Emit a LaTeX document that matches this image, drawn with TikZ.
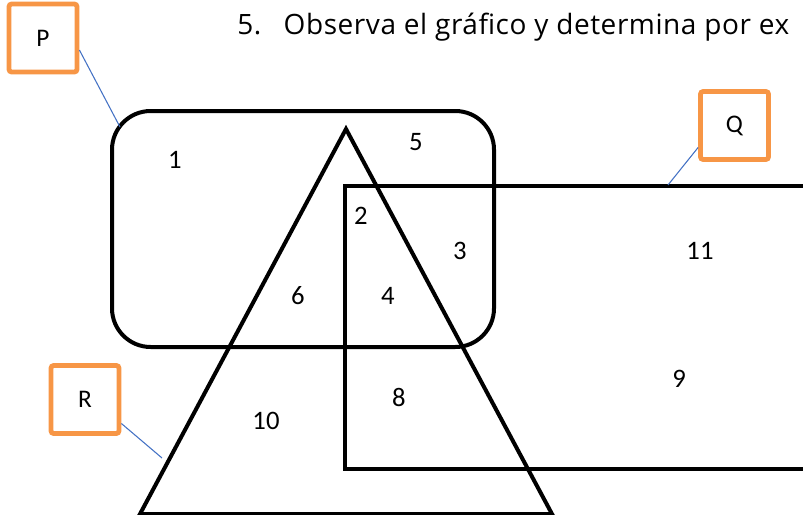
\documentclass[tikz,border=0pt]{standalone}
\usepackage{fontspec}
\setmainfont{Carlito}
\newfontfamily\titlefont[LetterSpace=2]{Open Sans}
\definecolor{boxorange}{HTML}{F79646}
\definecolor{linkblue}{HTML}{4472C4}
\begin{document}
\begin{tikzpicture}[x=0.75pt,y=-0.75pt,
  setline/.style={draw=black,line width=3pt},
  tagbox/.style={draw=boxorange,line width=3.6pt,rounded corners=2pt,minimum width=51pt,minimum height=51pt,inner sep=0pt,font=\fontsize{19}{21}\selectfont},
  linkline/.style={draw=linkblue,line width=0.8pt},
  num/.style={font=\fontsize{20}{22}\selectfont,inner sep=0pt}]
\useasboundingbox (0,0) rectangle (803,514);
\clip (0,0) rectangle (803,514);
% title
\node[anchor=base west,inner sep=0pt,font=\titlefont\fontsize{21}{24}\selectfont] (title) at (237,34) {5.\hspace{0.8em}Observa el gráfico y determina por ex};
% P rounded rectangle
\draw[setline,rounded corners=29pt] (112,111) rectangle (494,347);
% Q rectangle
\draw[setline] (345,186) -- (830,186) -- (830,469) -- (345,469) -- cycle;
% R triangle
\draw[setline,line join=miter] (346,129) -- (552,514) -- (140,514) -- cycle;
% numbers
\node[num] (n1) at (175,160) {1};
\node[num] (n5) at (416,142) {5};
\node[num] (n2) at (361,216) {2};
\node[num] (n3) at (460,251) {3};
\node[num] (n6) at (298,296) {6};
\node[num] (n4) at (388,296) {4};
\node[num] (n11) at (700,251) {11};
\node[num] (n9) at (679,379) {9};
\node[num] (n8) at (399,397) {8};
\node[num] (n10) at (266,421) {10};
% label boxes
\node[tagbox] (P) at (43,38) {P};
\node[tagbox] (Q) at (734.5,125.5) {Q};
\node[tagbox] (R) at (85,399.5) {R};
\coordinate (pend) at (120,127);
\coordinate (qend) at (668,185);
\coordinate (rend) at (162,458);
\draw[linkline] (P.east) ++(0,12) coordinate (pstart) -- (pend);
\draw[linkline] (Q.west) ++(0,22) coordinate (qstart) -- (qend);
\draw[linkline] (R.east) ++(0,24) coordinate (rstart) -- (rend);
\end{tikzpicture}
\end{document}
